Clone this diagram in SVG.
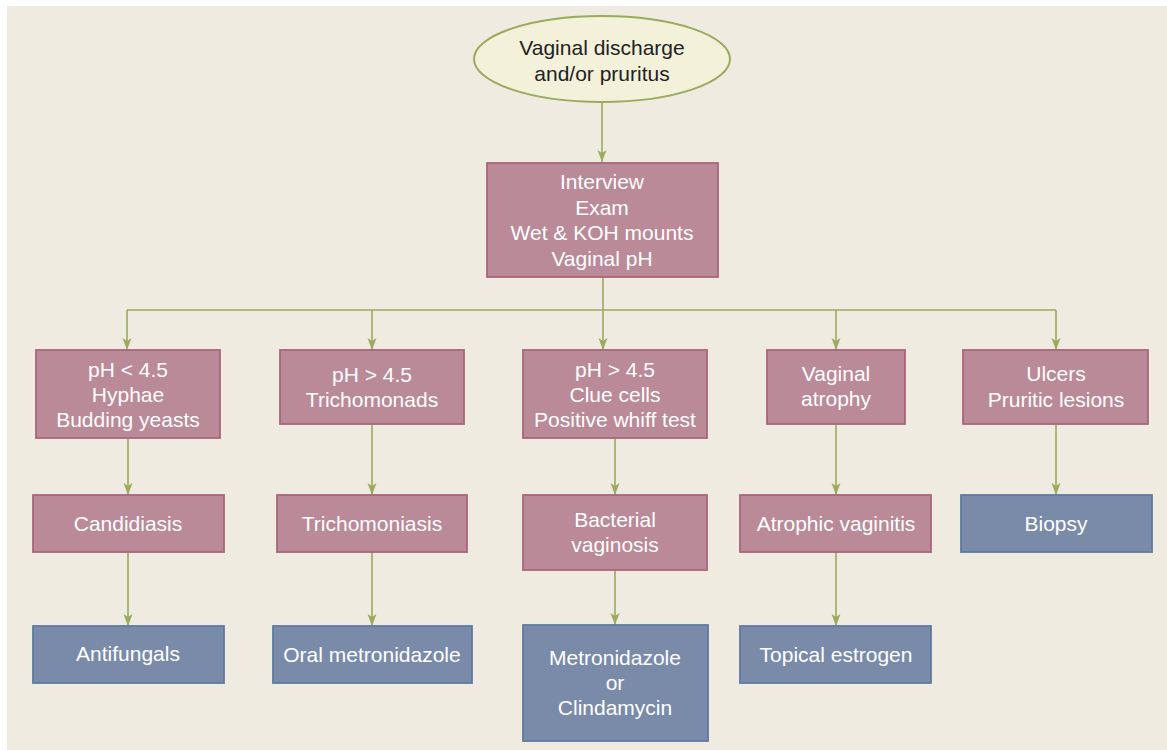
<svg xmlns="http://www.w3.org/2000/svg" width="1167" height="750" viewBox="0 0 1167 750">
<defs>
<marker id="ah" markerUnits="userSpaceOnUse" markerWidth="12" markerHeight="10" refX="12" refY="4.5" orient="auto">
<path d="M0,0 L12,4.5 L0,9 L3,4.5 z" fill="#9BAA5C"/>
</marker>
<style>
.bg{fill:#EFEBE1}
.pk{fill:#BA8A98;stroke:#A9657C;stroke-width:1.8}
.bl{fill:#7A8BA9;stroke:#5F7AA2;stroke-width:1.8}
.el{fill:#F3F1DA;stroke:#9BAA5C;stroke-width:2}
.t{font-family:"Liberation Sans",Arial,sans-serif;font-size:21px;fill:#FFFFFF;text-anchor:middle}
.td{font-family:"Liberation Sans",Arial,sans-serif;font-size:21px;fill:#222222;text-anchor:middle}
.c{fill:none;stroke:#9BAA5C;stroke-width:1.6}
</style>
</defs>
<rect class="bg" x="7" y="6" width="1160" height="744"/>
<g id="connectors">
<path class="c" d="M602,102 V162" marker-end="url(#ah)"/>
<path class="c" d="M603,277 V310 M127,310 H1056"/>
<path class="c" d="M127,310 V350" marker-end="url(#ah)"/>
<path class="c" d="M372,310 V350" marker-end="url(#ah)"/>
<path class="c" d="M603,310 V350" marker-end="url(#ah)"/>
<path class="c" d="M836,310 V350" marker-end="url(#ah)"/>
<path class="c" d="M1056,310 V350" marker-end="url(#ah)"/>
<path class="c" d="M128,439 V495" marker-end="url(#ah)"/>
<path class="c" d="M372,425 V495" marker-end="url(#ah)"/>
<path class="c" d="M615,439 V495" marker-end="url(#ah)"/>
<path class="c" d="M836,425 V495" marker-end="url(#ah)"/>
<path class="c" d="M1056,425 V495" marker-end="url(#ah)"/>
<path class="c" d="M128,552 V626" marker-end="url(#ah)"/>
<path class="c" d="M372,552 V626" marker-end="url(#ah)"/>
<path class="c" d="M615,570 V625" marker-end="url(#ah)"/>
<path class="c" d="M836,552 V626" marker-end="url(#ah)"/>
</g>
<g id="start">
<ellipse class="el" cx="602" cy="59" rx="128" ry="43"/>
<text class="td" x="602" y="55">Vaginal discharge</text>
<text class="td" x="602" y="81">and/or pruritus</text>
</g>
<g id="workup">
<rect class="pk" x="487" y="163" width="231" height="114"/>
<text class="t" x="602" y="189">Interview</text>
<text class="t" x="602" y="214.5">Exam</text>
<text class="t" x="602" y="240">Wet &amp; KOH mounts</text>
<text class="t" x="602" y="265.5">Vaginal pH</text>
</g>
<g id="findA">
<rect class="pk" x="36" y="350" width="184" height="88"/>
<text class="t" x="128" y="377">pH &lt; 4.5</text>
<text class="t" x="128" y="402">Hyphae</text>
<text class="t" x="128" y="427">Budding yeasts</text>
</g>
<g id="findB">
<rect class="pk" x="280" y="350" width="184" height="74"/>
<text class="t" x="372" y="382">pH &gt; 4.5</text>
<text class="t" x="372" y="407">Trichomonads</text>
</g>
<g id="findC">
<rect class="pk" x="523" y="350" width="184" height="88"/>
<text class="t" x="615" y="377">pH &gt; 4.5</text>
<text class="t" x="615" y="402">Clue cells</text>
<text class="t" x="615" y="427">Positive whiff test</text>
</g>
<g id="findD">
<rect class="pk" x="767" y="350" width="138" height="74"/>
<text class="t" x="836" y="381">Vaginal</text>
<text class="t" x="836" y="406">atrophy</text>
</g>
<g id="findE">
<rect class="pk" x="963" y="350" width="185" height="74"/>
<text class="t" x="1056" y="381">Ulcers</text>
<text class="t" x="1056" y="407">Pruritic lesions</text>
</g>
<g id="dxA">
<rect class="pk" x="33" y="495" width="191" height="57"/>
<text class="t" x="128" y="531">Candidiasis</text>
</g>
<g id="dxB">
<rect class="pk" x="277" y="495" width="190" height="57"/>
<text class="t" x="372" y="531">Trichomoniasis</text>
</g>
<g id="dxC">
<rect class="pk" x="523" y="495" width="184" height="75"/>
<text class="t" x="615" y="527">Bacterial</text>
<text class="t" x="615" y="552">vaginosis</text>
</g>
<g id="dxD">
<rect class="pk" x="740" y="495" width="191" height="57"/>
<text class="t" x="836" y="531">Atrophic vaginitis</text>
</g>
<g id="dxE">
<rect class="bl" x="961" y="495" width="191" height="57"/>
<text class="t" x="1056" y="531">Biopsy</text>
</g>
<g id="txA">
<rect class="bl" x="33" y="626" width="191" height="57"/>
<text class="t" x="128" y="661">Antifungals</text>
</g>
<g id="txB">
<rect class="bl" x="273" y="626" width="199" height="57"/>
<text class="t" x="372" y="662">Oral metronidazole</text>
</g>
<g id="txC">
<rect class="bl" x="523" y="625" width="185" height="116"/>
<text class="t" x="615" y="665">Metronidazole</text>
<text class="t" x="615" y="690">or</text>
<text class="t" x="615" y="715">Clindamycin</text>
</g>
<g id="txD">
<rect class="bl" x="740" y="626" width="191" height="57"/>
<text class="t" x="836" y="662">Topical estrogen</text>
</g>
</svg>
